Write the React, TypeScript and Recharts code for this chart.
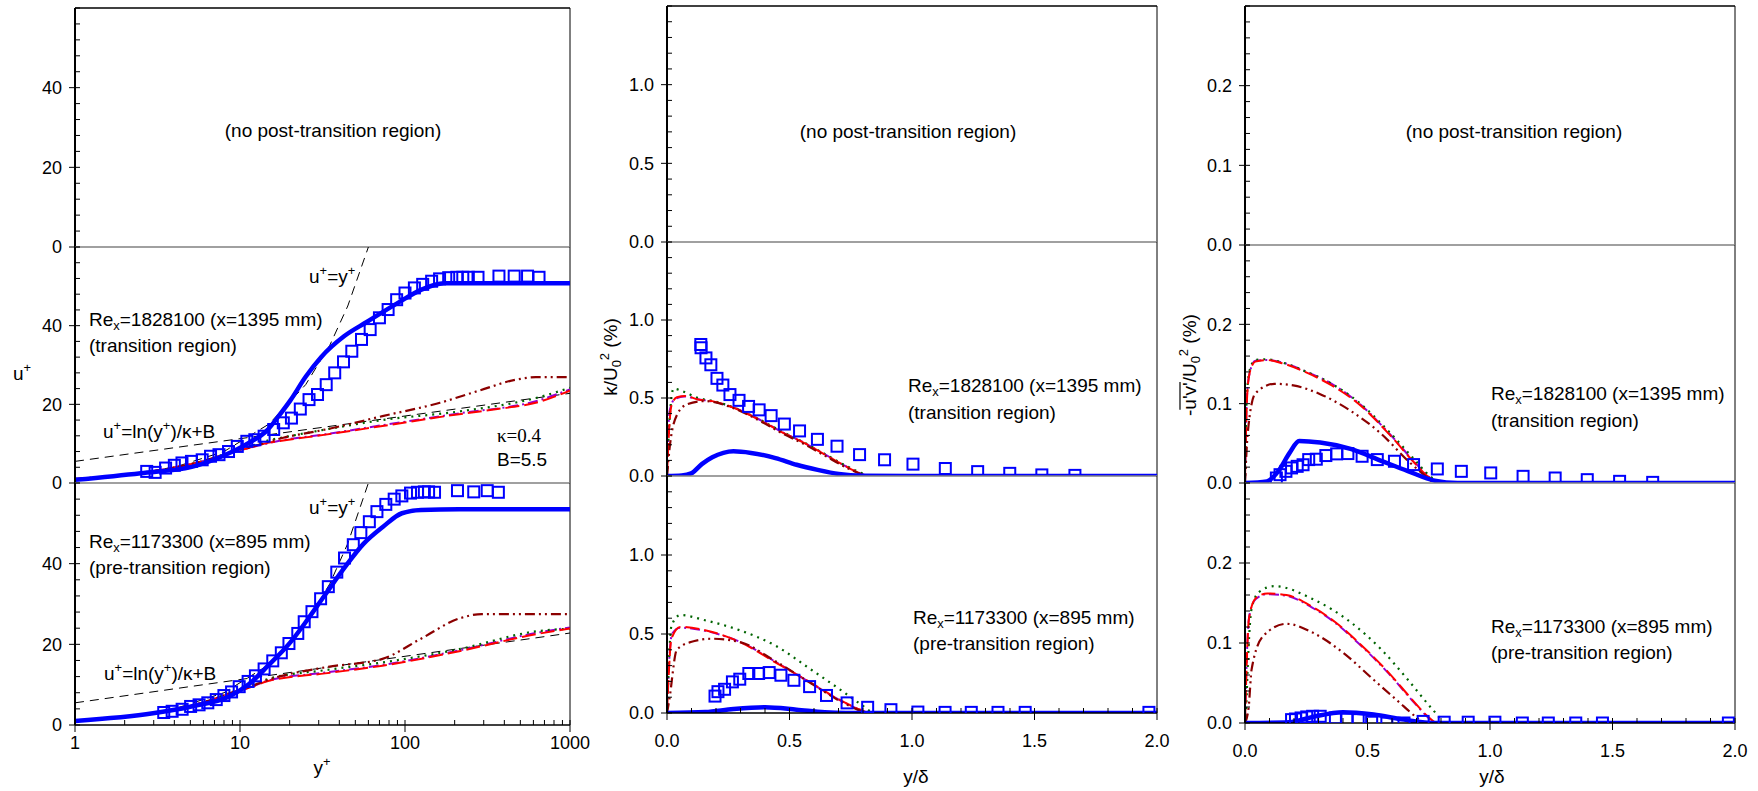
import React from 'react';
import { ComposedChart, Line, Scatter, XAxis, YAxis, ReferenceLine } from 'recharts';

type Pt = [number, number];

const FONT = '"Liberation Sans", Arial, Helvetica, sans-serif';
const SERIF = '"Liberation Serif", "Times New Roman", serif';

// ---------- axes ----------
const yPlusTicks = [1, 2, 3, 4, 5, 6, 7, 8, 9, 10, 20, 30, 40, 50, 60, 70, 80, 90, 100, 200, 300, 400, 500, 600, 700, 800, 900, 1000];
const yPlusLabels = [1, 10, 100, 1000];
const uPlusTicks = [0, 4, 8, 12, 16, 20, 24, 28, 32, 36, 40, 44, 48, 52, 56, 60];
const uPlusLabels = [0, 20, 40];

const yDeltaTicks = [0, 0.1, 0.2, 0.3, 0.4, 0.5, 0.6, 0.7, 0.8, 0.9, 1.0, 1.1, 1.2, 1.3, 1.4, 1.5, 1.6, 1.7, 1.8, 1.9, 2.0];
const yDeltaLabels = [0, 0.5, 1.0, 1.5, 2.0];
const kTicks = [0, 0.1, 0.2, 0.3, 0.4, 0.5, 0.6, 0.7, 0.8, 0.9, 1.0, 1.1, 1.2, 1.3, 1.4, 1.5];
const kLabels = [0, 0.5, 1.0];
const uvTicks = [0, 0.02, 0.04, 0.06, 0.08, 0.1, 0.12, 0.14, 0.16, 0.18, 0.2, 0.22, 0.24, 0.26, 0.28, 0.3];
const uvLabels = [0, 0.1, 0.2];

// ---------- u+ vs y+ : reference laws ----------
const viscousLaw: Pt[] = [[1, 1], [2, 2], [4, 4], [8, 8], [15, 15], [25, 25], [35, 35], [45, 45], [60, 60]];
const logLaw: Pt[] = [[1, 5.5], [1000, 22.8]];

// ---------- u+ : transition region (Re_x = 1828100) ----------
const uTransExp: Pt[] = [
  [2.72, 2.95], [3.06, 2.7], [3.54, 3.8], [4.0, 4.5], [4.45, 5.1], [5.08, 5.5], [5.9, 5.9], [6.63, 6.8],
  [7.46, 7.2], [8.52, 8.0], [9.63, 9.3], [11.0, 10.6], [12.3, 11.0], [14.0, 11.9], [16.0, 13.6], [18.3, 15.3],
  [20.5, 16.5], [23.2, 18.8], [26.2, 21.2], [29.5, 22.5], [33.3, 25.0], [37.5, 28.0], [42.4, 30.8], [47.6, 33.5],
  [54.5, 36.5], [61.5, 39.0], [70, 42.0], [79, 44.1], [89, 46.6], [100, 48.3], [114, 49.6], [128, 50.5],
  [145, 51.3], [162, 51.9], [184, 52.2], [206, 52.3], [224, 52.3], [242, 52.3], [277, 52.3], [371, 52.6],
  [459, 52.6], [553, 52.6], [649, 52.3],
];
const uTransBlue: Pt[] = [
  [1, 0.8], [2.5, 2.5], [5.1, 4.1], [8, 7.0], [11.3, 10.2], [14.7, 13.5], [17, 16.8], [20.2, 21], [25, 27],
  [31, 32], [42.7, 37.3], [59, 41], [90.6, 45.8], [125, 49.1], [172, 50.8], [1000, 50.8],
];
const uTransRed: Pt[] = [[1, 1], [3, 3], [6, 5.6], [9, 7.8], [11.3, 8.9], [14.7, 10.2], [18.3, 10.8], [33, 12.3], [73, 14.5], [213, 17.5], [363, 18.8], [620, 20.4], [1000, 23.5]];
const uTransGreen: Pt[] = [[1, 1], [3, 3], [6, 5.6], [9, 8.0], [11.3, 9.2], [14.7, 10.8], [18.3, 11.6], [33, 13.6], [73, 16.0], [213, 18.2], [620, 21.6], [1000, 24.2]];
const uTransPurple: Pt[] = [[1, 1], [3, 3], [6, 5.6], [9, 7.8], [11.3, 8.9], [18.3, 10.9], [33, 12.4], [73, 14.7], [213, 17.7], [620, 20.8], [1000, 23.8]];
const uTransDarkRed: Pt[] = [[1, 1], [3, 3], [6, 5.6], [9, 7.9], [11.3, 9.0], [18.3, 11.5], [33, 13.6], [73, 17.0], [163, 20.4], [277, 23.4], [475, 26.3], [620, 26.9], [1000, 26.9]];

// ---------- u+ : pre-transition region (Re_x = 1173300) ----------
const uPreExp: Pt[] = [
  [3.45, 3.1], [3.88, 3.4], [4.46, 3.9], [5.02, 4.6], [5.65, 5.0], [6.38, 5.5], [7.18, 6.3], [7.99, 7.3],
  [8.89, 8.2], [9.89, 9.5], [11.2, 10.8], [12.4, 12.2], [14.0, 13.9], [15.8, 15.9], [17.8, 17.9], [19.8, 20.2],
  [22.4, 22.7], [24.5, 25.6], [27.3, 28.1], [30.8, 31.3], [34.3, 34.3], [38.6, 37.9], [43.0, 41.4], [48.6, 44.7],
  [54.0, 47.7], [60.8, 50.4], [67.6, 52.9], [76.5, 54.7], [86.0, 56.0], [95.7, 56.8], [108, 57.5], [119, 57.7],
  [131, 57.8], [139, 57.8], [151, 57.7], [208, 58.1], [261, 57.8], [315, 58.1], [368, 57.7],
];
const uPreBlue: Pt[] = [
  [1, 1], [2.97, 2.9], [5.07, 4.6], [8.6, 7.1], [11.3, 10.1], [14.8, 14.7], [20.3, 20.6], [25.1, 25.6],
  [32.8, 32.3], [43, 39], [56, 44.9], [73.3, 49.1], [95.8, 52.5], [125, 53.3], [213, 53.5], [1000, 53.5],
];
const uPreRed: Pt[] = [[1, 1], [3, 3], [6, 5.6], [9, 8.0], [11.3, 9.2], [14.8, 10.9], [32.8, 12.8], [73, 14.7], [213, 18.3], [620, 22.5], [1000, 23.9]];
const uPreGreen: Pt[] = [[1, 1], [3, 3], [6, 5.6], [9, 8.2], [11.3, 9.6], [14.8, 11.4], [32.8, 13.6], [73, 15.5], [213, 18.8], [620, 23.2], [1000, 23.9]];
const uPrePurple: Pt[] = [[1, 1], [3, 3], [6, 5.6], [9, 8.0], [11.3, 9.2], [14.8, 11.0], [32.8, 13.0], [73, 14.9], [213, 18.5], [620, 22.8], [1000, 24.2]];
const uPreDarkRed: Pt[] = [[1, 1], [3, 3], [6, 5.6], [9, 8.1], [11.3, 9.4], [14.8, 11.2], [32.8, 14.3], [73, 16.4], [125, 21.4], [213, 26.4], [292, 27.5], [1000, 27.5]];

// ---------- k/U0^2 : transition ----------
const kTransExp: Pt[] = [
  [0.138, 0.843], [0.139, 0.822], [0.159, 0.757], [0.179, 0.713], [0.204, 0.626], [0.228, 0.583], [0.257, 0.522],
  [0.294, 0.485], [0.333, 0.446], [0.376, 0.424], [0.425, 0.387], [0.479, 0.333], [0.541, 0.289], [0.614, 0.235],
  [0.694, 0.191], [0.786, 0.137], [0.888, 0.104], [1.004, 0.076], [1.136, 0.048], [1.268, 0.028], [1.399, 0.017],
  [1.53, 0.007], [1.665, 0.004],
];
const kTransBlue: Pt[] = [[0, 0], [0.06, 0.003], [0.099, 0.017], [0.142, 0.076], [0.185, 0.12], [0.23, 0.148], [0.271, 0.158], [0.343, 0.148], [0.443, 0.115], [0.529, 0.072], [0.615, 0.039], [0.701, 0.013], [0.802, 0.002], [1.0, 0], [2.0, 0]];
const kTransRed: Pt[] = [[0, 0], [0.008, 0.28], [0.018, 0.45], [0.04, 0.505], [0.076, 0.513], [0.126, 0.49], [0.185, 0.48], [0.271, 0.438], [0.371, 0.365], [0.472, 0.278], [0.559, 0.213], [0.645, 0.137], [0.731, 0.061], [0.788, 0.017], [0.817, 0]];
const kTransGreen: Pt[] = [[0, 0], [0.01, 0.35], [0.027, 0.56], [0.069, 0.54], [0.126, 0.5], [0.185, 0.482], [0.271, 0.44], [0.371, 0.368], [0.472, 0.282], [0.559, 0.215], [0.645, 0.14], [0.731, 0.065], [0.8, 0.015], [0.83, 0]];
const kTransPurple: Pt[] = [[0, 0], [0.01, 0.41], [0.03, 0.49], [0.07, 0.51], [0.126, 0.492], [0.185, 0.478], [0.271, 0.44], [0.371, 0.367], [0.472, 0.28], [0.559, 0.214], [0.645, 0.138], [0.731, 0.062], [0.8, 0.01], [0.82, 0]];
const kTransDarkRed: Pt[] = [[0, 0], [0.01, 0.17], [0.04, 0.39], [0.083, 0.46], [0.155, 0.48], [0.271, 0.435], [0.371, 0.36], [0.472, 0.272], [0.559, 0.205], [0.645, 0.13], [0.731, 0.055], [0.8, 0.008], [0.82, 0]];

// ---------- k/U0^2 : pre-transition ----------
const kPreExp: Pt[] = [
  [0.196, 0.107], [0.208, 0.135], [0.235, 0.15], [0.267, 0.197], [0.297, 0.214], [0.334, 0.25], [0.374, 0.25],
  [0.417, 0.256], [0.465, 0.239], [0.518, 0.207], [0.582, 0.167], [0.651, 0.111], [0.735, 0.064], [0.819, 0.036],
  [0.914, 0.021], [1.024, 0.006], [1.135, 0.004], [1.242, 0.004], [1.351, 0.004], [1.462, 0.004], [1.967, 0.004],
];
const kPreBlue: Pt[] = [[0, 0], [0.156, 0.006], [0.271, 0.025], [0.4, 0.036], [0.529, 0.021], [0.644, 0.004], [0.73, 0], [2.0, 0]];
const kPreRed: Pt[] = [[0, 0], [0.006, 0.21], [0.018, 0.47], [0.054, 0.545], [0.155, 0.524], [0.298, 0.449], [0.442, 0.321], [0.586, 0.193], [0.701, 0.086], [0.787, 0.022], [0.816, 0.004], [0.83, 0]];
const kPreGreen: Pt[] = [[0, 0], [0.004, 0.17], [0.018, 0.55], [0.054, 0.62], [0.155, 0.587], [0.298, 0.523], [0.442, 0.427], [0.586, 0.277], [0.715, 0.139], [0.801, 0.043], [0.83, 0.01], [0.85, 0]];
const kPrePurple: Pt[] = [[0, 0], [0.008, 0.3], [0.02, 0.5], [0.054, 0.54], [0.155, 0.52], [0.298, 0.45], [0.442, 0.325], [0.586, 0.19], [0.701, 0.085], [0.787, 0.02], [0.82, 0]];
const kPreDarkRed: Pt[] = [[0, 0], [0.009, 0.08], [0.04, 0.4], [0.097, 0.449], [0.183, 0.47], [0.298, 0.449], [0.44, 0.33], [0.586, 0.19], [0.701, 0.08], [0.787, 0.015], [0.81, 0]];

// ---------- -u'v'/U0^2 : transition ----------
const uvTransExp: Pt[] = [
  [0.128, 0.0063], [0.143, 0.0105], [0.167, 0.0147], [0.19, 0.019], [0.213, 0.021], [0.237, 0.023], [0.26, 0.0295],
  [0.291, 0.03], [0.33, 0.0346], [0.374, 0.0367], [0.42, 0.0371], [0.478, 0.0337], [0.54, 0.0295], [0.61, 0.0274],
  [0.688, 0.0232], [0.785, 0.0177], [0.883, 0.0147], [1.003, 0.0127], [1.135, 0.0084], [1.266, 0.0063],
  [1.397, 0.0042], [1.529, 0.0021], [1.664, 0.0008],
];
const uvTransBlue: Pt[] = [[0, 0], [0.089, 0.002], [0.136, 0.015], [0.182, 0.038], [0.221, 0.053], [0.307, 0.051], [0.431, 0.043], [0.556, 0.028], [0.665, 0.015], [0.774, 0.003], [0.868, 0], [2.0, 0]];
const uvTransRed: Pt[] = [[0, 0.005], [0.008, 0.105], [0.019, 0.139], [0.042, 0.153], [0.089, 0.155], [0.151, 0.151], [0.245, 0.14], [0.354, 0.123], [0.463, 0.1], [0.587, 0.062], [0.696, 0.024], [0.743, 0.009], [0.774, 0.003], [0.79, 0]];
const uvTransGreen: Pt[] = [[0, 0], [0.006, 0.1], [0.019, 0.142], [0.042, 0.155], [0.089, 0.156], [0.151, 0.152], [0.245, 0.141], [0.354, 0.125], [0.463, 0.102], [0.587, 0.065], [0.696, 0.028], [0.743, 0.012], [0.78, 0.003], [0.8, 0]];
const uvTransPurple: Pt[] = [[0, 0], [0.008, 0.11], [0.02, 0.14], [0.042, 0.154], [0.089, 0.155], [0.151, 0.152], [0.245, 0.141], [0.354, 0.125], [0.463, 0.101], [0.587, 0.063], [0.696, 0.025], [0.743, 0.01], [0.78, 0]];
const uvTransDarkRed: Pt[] = [[0, 0], [0.011, 0.062], [0.042, 0.113], [0.12, 0.125], [0.197, 0.123], [0.307, 0.112], [0.431, 0.091], [0.556, 0.062], [0.665, 0.028], [0.743, 0.007], [0.77, 0]];

// ---------- -u'v'/U0^2 : pre-transition ----------
const uvPreExp: Pt[] = [
  [0.19, 0.0042], [0.206, 0.005], [0.229, 0.0063], [0.252, 0.0076], [0.276, 0.0084], [0.307, 0.0084], [0.369, 0.0063],
  [0.416, 0.005], [0.462, 0.0042], [0.517, 0.001], [0.579, 0], [0.649, 0], [0.727, 0.002], [0.813, 0.001],
  [0.911, 0.001], [1.02, 0.001], [1.132, 0], [1.238, 0], [1.35, 0], [1.459, 0], [1.973, 0],
];
const uvPreBlue: Pt[] = [[0, 0], [0.18, 0.001], [0.276, 0.0076], [0.4, 0.0135], [0.525, 0.0105], [0.649, 0.0042], [0.774, 0], [2.0, 0]];
const uvPreRed: Pt[] = [[0, 0], [0.005, 0.055], [0.016, 0.13], [0.044, 0.156], [0.091, 0.162], [0.169, 0.16], [0.276, 0.145], [0.369, 0.126], [0.462, 0.101], [0.586, 0.063], [0.68, 0.03], [0.743, 0.009], [0.774, 0.001], [0.78, 0]];
const uvPreGreen: Pt[] = [[0, 0], [0.005, 0.02], [0.011, 0.07], [0.027, 0.143], [0.058, 0.164], [0.12, 0.171], [0.276, 0.155], [0.431, 0.126], [0.556, 0.092], [0.665, 0.054], [0.743, 0.025], [0.79, 0.008], [0.81, 0]];
const uvPrePurple: Pt[] = [[0, 0], [0.006, 0.07], [0.018, 0.135], [0.044, 0.155], [0.091, 0.161], [0.169, 0.159], [0.276, 0.144], [0.369, 0.125], [0.462, 0.1], [0.586, 0.062], [0.68, 0.029], [0.743, 0.008], [0.77, 0]];
const uvPreDarkRed: Pt[] = [[0, 0], [0.015, 0.02], [0.027, 0.067], [0.075, 0.109], [0.169, 0.124], [0.276, 0.113], [0.4, 0.088], [0.525, 0.054], [0.618, 0.029], [0.712, 0.004], [0.73, 0]];

// ---------- styles ----------
type Kind = 'blue' | 'red' | 'green' | 'purple' | 'darkred' | 'ref' | 'exp';
interface Series { data: Pt[]; kind: Kind }

const LINE_STYLE: Record<string, { stroke: string; width: number; dash?: string }> = {
  blue: { stroke: '#0000ff', width: 4.5 },
  red: { stroke: '#ff0000', width: 2, dash: '14 5' },
  green: { stroke: '#006400', width: 2.2, dash: '2 5' },
  purple: { stroke: '#9400d3', width: 2, dash: '10 4 2 4' },
  darkred: { stroke: '#8b0000', width: 2.2, dash: '10 4 2 4 2 4' },
  ref: { stroke: '#000000', width: 1, dash: '9 6' },
};

const near = (v: number, list: number[]) => list.some((m) => Math.abs(m - v) < 1e-6);

const Square = (p: any) => (
  <rect x={p.cx - 5.5} y={p.cy - 5.5} width={11} height={11} fill="none" stroke="#0000ff" strokeWidth={2} />
);

const makeYTick = (labels: number[], fmt: (v: number) => string) => (p: any) => {
  const { x, y, payload } = p;
  const major = near(payload.value, labels);
  return (
    <g key={`yt-${payload.value}`}>
      <line x1={major ? x - 6 : x} x2={x + 5} y1={y} y2={y} stroke="#000" strokeWidth={1} />
      {major && (
        <text x={x - 13} y={y} dy="0.35em" textAnchor="end" fontSize={18} fontFamily={FONT} fill="#000">
          {fmt(payload.value)}
        </text>
      )}
    </g>
  );
};

const makeXTick = (labels: number[], fmt: (v: number) => string, gap: number) => (p: any) => {
  const { x, y, payload } = p;
  const major = near(payload.value, labels);
  return (
    <g key={`xt-${payload.value}`}>
      <line x1={x} x2={x} y1={y - 5} y2={major ? y + 7 : y} stroke="#000" strokeWidth={1} />
      {major && (
        <text x={x} y={y + gap} dy="0.35em" textAnchor="middle" fontSize={18} fontFamily={FONT} fill="#000">
          {fmt(payload.value)}
        </text>
      )}
    </g>
  );
};

interface SubProps {
  left: number; top: number; width: number; height: number;
  log?: boolean; xMax: number; xTicks: number[]; xLabels: number[]; xFmt: (v: number) => string;
  yMax: number; yTicks: number[]; yLabels: number[]; yFmt: (v: number) => string;
  bottom?: boolean; first?: boolean; xGap?: number; series?: Series[];
}

const AXW = 70;
const MR = 30;
const MT = 4;
const MB = 14;
const XH = 60;

const SubPanel = (p: SubProps) => {
  const w = AXW + p.width + MR;
  const mb = p.bottom ? 0 : MB;
  const h = MT + p.height + (p.bottom ? XH : mb);
  const xMin = p.log ? 1 : 0;
  return (
    <div style={{ position: 'absolute', left: p.left - AXW, top: p.top - MT }}>
      <ComposedChart width={w} height={h} margin={{ top: MT, right: MR, bottom: mb, left: 0 }}>
        <XAxis
          type="number"
          dataKey="x"
          scale={p.log ? 'log' : 'linear'}
          domain={[xMin, p.xMax]}
          allowDataOverflow
          ticks={p.xTicks}
          interval={0}
          hide={!p.bottom}
          height={XH}
          tickSize={0}
          tickMargin={0}
          tickLine={false}
          axisLine={{ stroke: '#000', strokeWidth: 1.5 }}
          tick={makeXTick(p.xLabels, p.xFmt, p.xGap ?? 28)}
        />
        <YAxis
          type="number"
          dataKey="y"
          domain={[0, p.yMax]}
          allowDataOverflow
          ticks={p.yTicks}
          interval={0}
          width={AXW}
          tickSize={0}
          tickMargin={0}
          tickLine={false}
          axisLine={{ stroke: '#000', strokeWidth: 2 }}
          tick={makeYTick(p.yLabels, p.yFmt)}
        />
        <ReferenceLine y={p.yMax} stroke={p.first ? '#000' : '#808080'} strokeWidth={1.5} />
        <ReferenceLine x={p.xMax} stroke="#000" strokeWidth={1} />
        {(p.series || []).map((s, i) => {
          const data = s.data.map(([x, y]) => ({ x, y }));
          if (s.kind === 'exp') {
            return <Scatter key={i} data={data} dataKey="y" shape={Square} isAnimationActive={false} />;
          }
          const st = LINE_STYLE[s.kind];
          return (
            <Line
              key={i}
              data={data}
              dataKey="y"
              type={s.kind === 'ref' ? 'linear' : 'monotone'}
              stroke={st.stroke}
              strokeWidth={st.width}
              strokeDasharray={st.dash}
              strokeLinecap={s.kind === 'blue' ? 'round' : 'butt'}
              dot={false}
              activeDot={false}
              isAnimationActive={false}
            />
          );
        })}
      </ComposedChart>
    </div>
  );
};

// ---------- rich text ----------
type Seg = string | { sup?: string; sub?: string };

const Rich = ({ x, y, segs, anchor = 'start', size = 19, family = FONT, transform }: {
  x: number; y: number; segs: Seg[]; anchor?: 'start' | 'middle' | 'end'; size?: number; family?: string; transform?: string;
}) => {
  let cur = 0;
  const parts = segs.map((s, i) => {
    let t = 0;
    let txt = '';
    let fs = size;
    if (typeof s === 'string') {
      txt = s;
    } else if (s.sup !== undefined) {
      t = -0.42 * size; txt = s.sup; fs = size * 0.68;
    } else {
      t = 0.22 * size; txt = s.sub || ''; fs = size * 0.68;
    }
    const dy = t - cur;
    cur = t;
    return <tspan key={i} dy={dy} fontSize={fs}>{txt}</tspan>;
  });
  return (
    <text x={x} y={y} textAnchor={anchor} fontSize={size} fontFamily={family} fill="#000" transform={transform}>
      {parts}
    </text>
  );
};

const uEqY: Seg[] = ['u', { sup: '+' }, '=y', { sup: '+' }];
const logLawTxt: Seg[] = ['u', { sup: '+' }, '=ln(y', { sup: '+' }, ')/\u03ba+B'];
const reTrans: Seg[] = ['Re', { sub: 'x' }, '=1828100 (x=1395 mm)'];
const rePre: Seg[] = ['Re', { sub: 'x' }, '=1173300 (x=895 mm)'];

const Overlay = () => (
  <svg width={1758} height={791} style={{ position: 'absolute', left: 0, top: 0, pointerEvents: 'none' }}>
    {/* left column */}
    <Rich x={333} y={137} anchor="middle" segs={['(no post-transition region)']} />
    <Rich x={309} y={283} segs={uEqY} />
    <Rich x={89} y={326} segs={reTrans} />
    <Rich x={89} y={352} segs={['(transition region)']} />
    <Rich x={103} y={438} segs={logLawTxt} />
    <Rich x={497} y={442} segs={['\u03ba=0.4']} family={SERIF} />
    <Rich x={497} y={466} segs={['B=5.5']} />
    <Rich x={309} y={514} segs={uEqY} />
    <Rich x={89} y={548} segs={rePre} />
    <Rich x={89} y={574} segs={['(pre-transition region)']} />
    <Rich x={104} y={680} segs={logLawTxt} />
    <Rich x={13} y={380} segs={['u', { sup: '+' }]} />
    <Rich x={322} y={774} anchor="middle" segs={['y', { sup: '+' }]} />

    {/* middle column */}
    <Rich x={908} y={138} anchor="middle" segs={['(no post-transition region)']} />
    <Rich x={908} y={392} segs={reTrans} />
    <Rich x={908} y={419} segs={['(transition region)']} />
    <Rich x={913} y={624} segs={rePre} />
    <Rich x={913} y={650} segs={['(pre-transition region)']} />
    <Rich x={916} y={783} anchor="middle" segs={['y/\u03b4']} />
    <Rich x={0} y={7} anchor="middle" transform="translate(610,357) rotate(-90)" segs={['k/U', { sub: '0' }, { sup: '2' }, ' (%)']} />

    {/* right column */}
    <Rich x={1514} y={138} anchor="middle" segs={['(no post-transition region)']} />
    <Rich x={1491} y={400} segs={reTrans} />
    <Rich x={1491} y={427} segs={['(transition region)']} />
    <Rich x={1491} y={633} segs={rePre} />
    <Rich x={1491} y={659} segs={['(pre-transition region)']} />
    <Rich x={1492} y={783} anchor="middle" segs={['y/\u03b4']} />
    <g transform="translate(1189,365) rotate(-90)">
      <Rich x={-51} y={7} segs={["-u'v'/U", { sub: '0' }, { sup: '2' }, ' (%)']} />
      <line x1={-44.7} x2={-17.1} y1={-9} y2={-9} stroke="#000" strokeWidth={1.2} />
    </g>
  </svg>
);

const fmtInt = (v: number) => String(v);
const fmt1 = (v: number) => v.toFixed(1);

const App = () => {
  const leftCol = { left: 75, width: 495, log: true, xMax: 1000, xTicks: yPlusTicks, xLabels: yPlusLabels, xFmt: fmtInt, yMax: 60, yTicks: uPlusTicks, yLabels: uPlusLabels, yFmt: fmtInt, xGap: 18 };
  const midCol = { left: 667, width: 490, xMax: 2, xTicks: yDeltaTicks, xLabels: yDeltaLabels, xFmt: fmt1, yMax: 1.5, yTicks: kTicks, yLabels: kLabels, yFmt: fmt1, xGap: 28 };
  const rightCol = { left: 1245, width: 490, xMax: 2, xTicks: yDeltaTicks, xLabels: yDeltaLabels, xFmt: fmt1, yMax: 0.3, yTicks: uvTicks, yLabels: uvLabels, yFmt: fmt1, xGap: 28 };

  const uTrans: Series[] = [
    { data: logLaw, kind: 'ref' }, { data: viscousLaw, kind: 'ref' },
    { data: uTransPurple, kind: 'purple' }, { data: uTransGreen, kind: 'green' },
    { data: uTransRed, kind: 'red' }, { data: uTransDarkRed, kind: 'darkred' },
    { data: uTransBlue, kind: 'blue' }, { data: uTransExp, kind: 'exp' },
  ];
  const uPre: Series[] = [
    { data: logLaw, kind: 'ref' }, { data: viscousLaw, kind: 'ref' },
    { data: uPrePurple, kind: 'purple' }, { data: uPreGreen, kind: 'green' },
    { data: uPreRed, kind: 'red' }, { data: uPreDarkRed, kind: 'darkred' },
    { data: uPreBlue, kind: 'blue' }, { data: uPreExp, kind: 'exp' },
  ];
  const kTrans: Series[] = [
    { data: kTransPurple, kind: 'purple' }, { data: kTransGreen, kind: 'green' },
    { data: kTransRed, kind: 'red' }, { data: kTransDarkRed, kind: 'darkred' },
    { data: kTransBlue, kind: 'blue' }, { data: kTransExp, kind: 'exp' },
  ];
  const kPre: Series[] = [
    { data: kPrePurple, kind: 'purple' }, { data: kPreGreen, kind: 'green' },
    { data: kPreRed, kind: 'red' }, { data: kPreDarkRed, kind: 'darkred' },
    { data: kPreBlue, kind: 'blue' }, { data: kPreExp, kind: 'exp' },
  ];
  const uvTrans: Series[] = [
    { data: uvTransPurple, kind: 'purple' }, { data: uvTransGreen, kind: 'green' },
    { data: uvTransRed, kind: 'red' }, { data: uvTransDarkRed, kind: 'darkred' },
    { data: uvTransBlue, kind: 'blue' }, { data: uvTransExp, kind: 'exp' },
  ];
  const uvPre: Series[] = [
    { data: uvPrePurple, kind: 'purple' }, { data: uvPreGreen, kind: 'green' },
    { data: uvPreRed, kind: 'red' }, { data: uvPreDarkRed, kind: 'darkred' },
    { data: uvPreBlue, kind: 'blue' }, { data: uvPreExp, kind: 'exp' },
  ];

  return (
    <div style={{ position: 'absolute', left: 0, top: 0, width: 1758, height: 791, background: '#fff', overflow: 'hidden', fontFamily: FONT }}>
      <SubPanel {...leftCol} top={8} height={239} first />
      <SubPanel {...leftCol} top={247} height={236} series={uTrans} />
      <SubPanel {...leftCol} top={483} height={242} series={uPre} bottom />

      <SubPanel {...midCol} top={6} height={236} first />
      <SubPanel {...midCol} top={242} height={234} series={kTrans} />
      <SubPanel {...midCol} top={476} height={237} series={kPre} bottom />

      <SubPanel {...rightCol} top={6} height={239} first />
      <SubPanel {...rightCol} top={245} height={238} series={uvTrans} />
      <SubPanel {...rightCol} top={483} height={240} series={uvPre} bottom />

      <Overlay />
    </div>
  );
};

export default App;
